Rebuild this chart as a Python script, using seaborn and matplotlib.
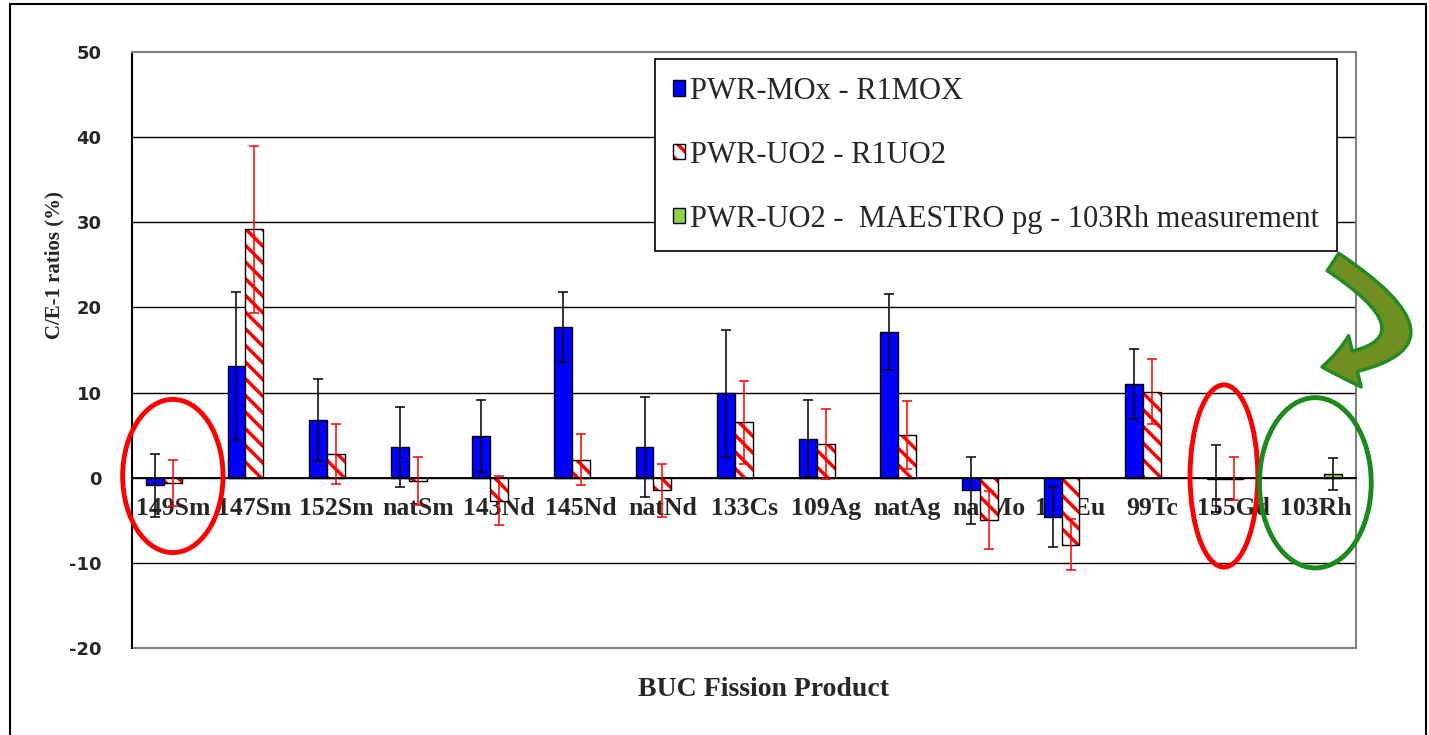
import numpy as np
import pandas as pd
import matplotlib.pyplot as plt
import seaborn as sns
from matplotlib.patches import Rectangle, Ellipse, FancyArrowPatch
from matplotlib.path import Path

# values (C/E-1 in %)
products = ['149Sm', '147Sm', '152Sm', 'natSm', '143Nd', '145Nd', 'natNd', '133Cs',
            '109Ag', 'natAg', 'natMo', '153Eu', '99Tc', '155Gd', '103Rh']
mox = [-0.9, 13.1, 6.8, 3.6, 4.9, 17.7, 3.6, 9.9, 4.6, 17.1, -1.5, -4.6, 11.0, -0.1, np.nan]
mox_err = [3.7, 8.7, 4.8, 4.7, 4.2, 4.1, 5.9, 7.5, 4.5, 4.5, 3.9, 3.5, 4.1, 3.9, np.nan]
uo2 = [-0.6, 29.2, 2.8, -0.4, -2.7, 2.1, -1.5, 6.5, 4.0, 5.0, -5.0, -7.9, 10.1, -0.1, np.nan]
uo2_err = [2.7, 9.8, 3.5, 2.8, 2.9, 3.0, 3.1, 4.9, 4.1, 4.0, 3.4, 3.0, 3.8, 2.5, np.nan]
maestro = [np.nan] * 14 + [0.4]
maestro_err = [np.nan] * 14 + [1.9]
series = ['PWR-MOx - R1MOX', 'PWR-UO2 - R1UO2', 'PWR-UO2 -  MAESTRO pg - 103Rh measurement']

df = pd.DataFrame({'product': products * 3,
                   'value': mox + uo2 + maestro,
                   'series': np.repeat(series, len(products))})
errs = [mox_err, uo2_err, maestro_err]
vals = [mox, uo2, maestro]

sns.set_style('white')
plt.rcParams['hatch.linewidth'] = 2.5
plt.rcParams['axes.unicode_minus'] = False
serif = 'Liberation Serif'

fig = plt.figure(figsize=(14.29, 7.35), dpi=100)
ax = fig.add_axes([0.0924, 0.1184, 0.8566, 0.8109])

sns.barplot(data=df, x='product', y='value', hue='series', order=products, hue_order=series,
            palette=['#0000ff', 'white', '#92d050'], saturation=1, width=0.66, errorbar=None,
            edgecolor='black', linewidth=1, legend=False, ax=ax)
bar_conts = list(ax.containers)

# hatched red bars + error bars
err_colors = ['black', 'red', 'black']
handles = [None, None, None]
for k, cont in enumerate(bar_conts):
    for p in cont.patches:
        if not np.isfinite(p.get_height()):
            continue
        xc = p.get_x() + p.get_width() / 2
        i = int(round(xc))
        if np.isnan(vals[k][i]):
            continue
        h = p
        if k == 1:
            p.set_hatch('\\\\')
            p.set_edgecolor('red')
            p.set_linewidth(0)
            outline = Rectangle(p.get_xy(), p.get_width(), p.get_height(), fill=False,
                                edgecolor='black', linewidth=1, zorder=p.get_zorder() + 0.1)
            ax.add_patch(outline)
            h = (p, outline)
        if handles[k] is None and p.get_height() != 0:
            handles[k] = h
        ax.errorbar(xc, vals[k][i], yerr=errs[k][i], fmt='none', ecolor=err_colors[k],
                    elinewidth=1.1, capsize=3.3, capthick=1.1, zorder=3)

ax.set_xlim(-0.5, 14.5)
ax.set_ylim(-20, 50)
ax.set_yticks(range(-20, 51, 10))
ax.set_xticks(range(len(products)))
ax.set_xticks(np.arange(-0.5, 15, 1), minor=True)
ax.grid(axis='y', color='black', linewidth=1.0)
ax.set_axisbelow(True)
gl = ax.get_ygridlines()
for g in (gl[0], gl[-1]):
    g.set_color('#808080')
    g.set_linewidth(1.5)
    g.set_clip_on(False)

ax.spines['bottom'].set_position(('data', 0))
ax.spines['bottom'].set_color('black')
ax.spines['bottom'].set_linewidth(1.3)
ax.spines['left'].set_color('black')
ax.spines['left'].set_linewidth(1.5)
for s in ['top', 'right']:
    ax.spines[s].set_color('#808080')
    ax.spines[s].set_linewidth(1.5)

ax.tick_params(axis='x', which='major', length=0, pad=14)
ax.tick_params(axis='x', which='minor', length=6, width=1, direction='out', color='black')
ax.tick_params(axis='y', length=9, width=1.2, direction='out', color='black', pad=13)
ax.set_xticklabels(products, fontfamily=serif, fontweight='bold', fontsize=18.5)
for lbl in ax.get_yticklabels():
    lbl.set_fontweight('bold')
    lbl.set_fontsize(13)
    lbl.set_fontfamily('DejaVu Sans')

ax.set_xlabel('BUC Fission Product', fontfamily=serif, fontweight='bold', fontsize=20, va='center')
ax.xaxis.set_label_coords(0.516, -0.07)
ax.set_ylabel('C/E-1 ratios (%)', fontfamily=serif, fontweight='bold', fontsize=15, va='center')
ax.yaxis.set_label_coords(-0.063, 0.643)

leg = ax.legend(handles, series, loc='upper right', bbox_to_anchor=(0.984, 0.988),
                prop={'family': serif, 'size': 22}, frameon=True, fancybox=False,
                edgecolor='black', framealpha=1, labelspacing=1.14, handlelength=0.39,
                handleheight=0.39, handletextpad=0.16, borderpad=0.58, borderaxespad=0)
leg.get_frame().set_linewidth(1.2)

# annotations
ax.add_patch(Ellipse((0, 0.2), 1.23, 18, fill=False, edgecolor='red', linewidth=3.5,
                     clip_on=False, zorder=6))
ax.add_patch(Ellipse((12.88, 0.2), 0.83, 21.4, fill=False, edgecolor='red', linewidth=3.5,
                     clip_on=False, zorder=6))
ax.add_patch(Ellipse((14.0, -0.6), 1.37, 20, fill=False, edgecolor='#1a8a1a', linewidth=3.5,
                     clip_on=False, zorder=6))

W, H = 1429, 735
pts = [(1333, 262), (1465, 350), (1322, 367)]
arc = Path([(x / W, 1 - y / H) for x, y in pts],
           [Path.MOVETO, Path.CURVE3, Path.CURVE3])
arrow = FancyArrowPatch(path=arc, transform=fig.transFigure,
                        arrowstyle='simple,tail_width=1.5,head_width=3.8,head_length=2.4',
                        mutation_scale=10, facecolor='#6f8f22', edgecolor='#228b22',
                        linewidth=2.5, zorder=10)
fig.patches.append(arrow)

fig.patches.append(Rectangle((10 / W, -0.05), 1416 / W, 1.05 - 4 / H, fill=False,
                             edgecolor='black', linewidth=1.5, transform=fig.transFigure))

fig.savefig('out.png', dpi=100)
